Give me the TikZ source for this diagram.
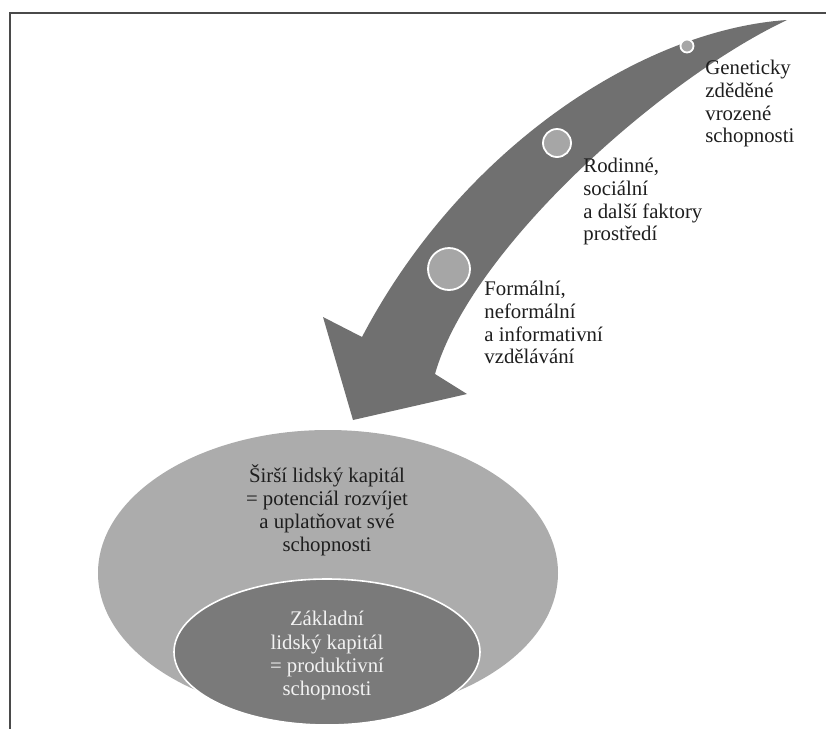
\documentclass[tikz,border=0pt]{standalone}
\usepackage{fontspec}
\setmainfont{Liberation Serif}
\definecolor{arrowgray}{HTML}{707070}
\definecolor{outergray}{HTML}{ACACAC}
\definecolor{innergray}{HTML}{7A7A7A}
\definecolor{dotgray}{HTML}{A6A6A6}
\definecolor{framegray}{HTML}{4A4A4A}
\definecolor{textdark}{HTML}{1E1E1E}
\definecolor{textlight}{HTML}{F2F2F2}
\begin{document}
\begin{tikzpicture}[x=0.5pt,y=-0.5pt,
  lbl/.style={font=\fontsize{10.4}{11.3}\selectfont, align=left, anchor=north west, inner sep=0pt, text=textdark},
  ctext/.style={font=\fontsize{10.4}{11.6}\selectfont, align=center, anchor=north, inner sep=0pt},
  dotmark/.style={fill=dotgray, draw=white, line width=0.9pt}]
\useasboundingbox (0,0) rectangle (826,729);
\fill[white] (0,0) rectangle (826,729);
% frame
\draw[framegray, line width=1pt] (10,729) -- (10,13) -- (826,13);
% ellipses
\fill[outergray] (328,573) ellipse [x radius=230, y radius=143];
\filldraw[fill=innergray, draw=white, line width=0.8pt] (327,652) ellipse [x radius=153, y radius=73];
% arrow
\coordinate (tail) at (787,20);
\coordinate (nl) at (362,337);
\coordinate (wl) at (323,317);
\coordinate (tip) at (353,420);
\coordinate (wr) at (467,394);
\coordinate (nr) at (435,374);
\fill[arrowgray]
  (tail) .. controls (640,30) and (460,150) .. (nl)
  -- (wl) -- (tip) -- (wr) -- (nr)
  .. controls (470,250) and (660,80) .. (tail)
  -- cycle;
% circles on the arrow
\path[dotmark] (687,46) circle [radius=6.5];
\path[dotmark] (557,143) circle [radius=14];
\path[dotmark] (449,269) circle [radius=21];
% labels
\node[lbl] (gen) at (705,60) {Geneticky\\zděděné\\vrozené\\schopnosti};
\node[lbl] (rod) at (583,158) {Rodinné,\\sociální\\a další faktory\\prostředí};
\node[lbl] (for) at (484,281) {Formální,\\neformální\\a informativní\\vzdělávání};
\node[ctext, text=textdark] (sirsi) at (327,464) {Širší lidský kapitál\\= potenciál rozvíjet\\a uplatňovat své\\schopnosti};
\node[ctext, text=textlight] (zakl) at (327,611) {Základní\\lidský kapitál\\= produktivní\\schopnosti};
\end{tikzpicture}
\end{document}
